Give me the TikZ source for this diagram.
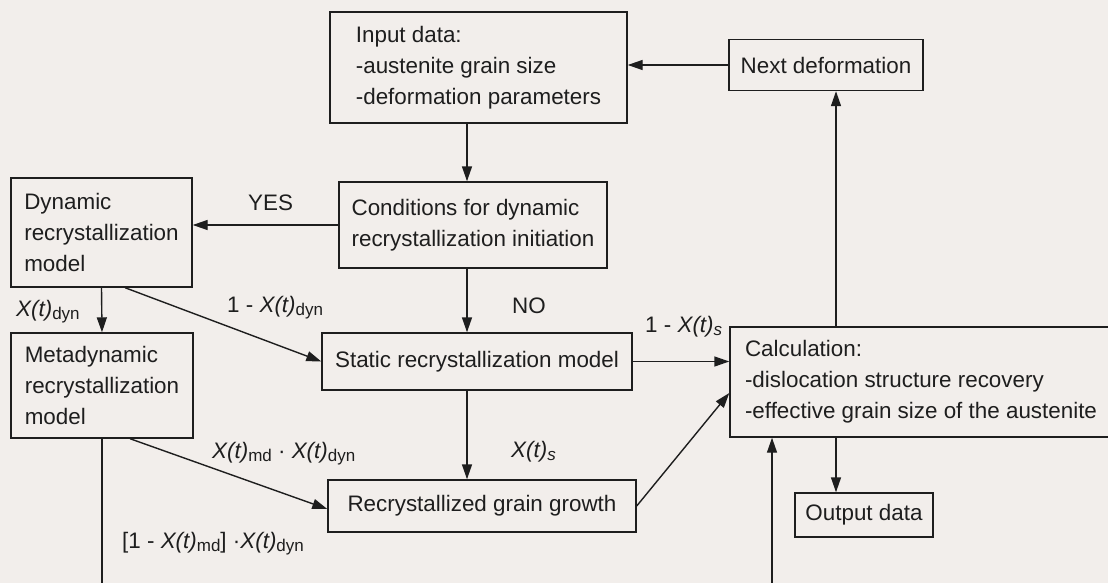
\documentclass[tikz,border=0pt]{standalone}
\usepackage{fontspec}
\setmainfont{Liberation Sans}
\usetikzlibrary{arrows.meta}
\definecolor{paper}{RGB}{242,238,235}
\definecolor{ink}{RGB}{30,30,30}
\tikzstyle{block}=[draw=ink,line width=1.4pt,align=left,inner sep=0pt,text=ink]
\tikzstyle{flow}=[draw=ink,line width=1.4pt,-{Triangle[length=15pt,width=10pt]}]
\tikzstyle{plain}=[draw=ink,line width=1.4pt]
\tikzstyle{lbl}=[anchor=base west,inner sep=0pt,text=ink]
\newcommand{\Xt}{\textit{X(t)}}
\newcommand{\idx}[1]{\raisebox{-0.3ex}{\fontsize{17}{17}\selectfont #1}}
\newcommand{\drawblock}[5]{
\node[block,minimum width=#3,minimum height=#4] (#1) at (#2) {#5};
}

\begin{document}
\begin{tikzpicture}[x=1pt,y=-1pt,font=\fontsize{22.4}{31}\selectfont]
	\clip (0,0) rectangle (1108,583);
	\fill[paper] (0,0) rectangle (1108,583);
	% boxes
	\drawblock{input}{478.5,67.5}{297pt}{111pt}{Input data:\\-austenite grain size\\-deformation parameters}
	\drawblock{next}{826,65}{194pt}{51pt}{Next deformation}
	\drawblock{cond}{473,225}{268pt}{86pt}{Conditions for dynamic\\recrystallization initiation}
	\drawblock{dyn}{101.5,232.5}{181pt}{109pt}{Dynamic\\recrystallization\\model}
	\drawblock{meta}{102,385.5}{182pt}{105pt}{Metadynamic\\recrystallization\\model}
	\drawblock{static}{477,361.5}{310pt}{57pt}{Static recrystallization model}
	\drawblock{grow}{482,506}{308pt}{52pt}{Recrystallized grain growth}
	\drawblock{calc}{921,382}{382pt}{110pt}{Calculation:\\-dislocation structure recovery\\-effective grain size of the austenite}
	\drawblock{out}{864,515}{138pt}{44pt}{Output data}
	% helper positions
	\coordinate (spine) at (467,0);
	\coordinate (stem) at (836,0);
	\coordinate (metaend) at (102,583);
	\coordinate (calcin) at (772,583);
	% connectors
	\draw[flow] (next.west) -- (input.east |- next.west);
	\draw[flow] (input.south -| spine) -- (cond.north -| spine);
	\draw[flow] (cond.south -| spine) -- (static.north -| spine);
	\draw[flow] (static.south -| spine) -- (grow.north -| spine);
	\draw[flow] (cond.west) -- (dyn.east |- cond.west);
	\draw[flow] (dyn.south) -- (meta.north);
	\draw[flow] ([xshift=23.5pt]dyn.south) -- (static.west);
	\draw[flow] ([xshift=28pt]meta.south) -- ([yshift=-3pt]grow.west);
	\draw[flow] (static.east) -- (calc.west |- static.east);
	\draw[flow] (grow.east) -- ([yshift=-11pt]calc.west);
	\draw[flow] (calc.north -| stem) -- (next.south -| stem);
	\draw[flow] (calc.south -| stem) -- (out.north -| stem);
	\draw[plain] (meta.south) -- (metaend);
	\draw[flow] (calcin) -- (calc.south -| calcin);
	% labels
	\node[lbl] (yes) at (248,210) {YES};
	\node[lbl] (no) at (512,313) {NO};
	\node[lbl] (fdyn) at (16,316) {\Xt\idx{dyn}};
	\node[lbl] (fstat) at (227,312) {1 - \Xt\idx{dyn}};
	\node[lbl] (fmd) at (212,458) {\Xt\idx{md} · \Xt\idx{dyn}};
	\node[lbl] (frest) at (122,548) {[1 - \Xt\idx{md}] ·\Xt\idx{dyn}};
	\node[lbl] (fs) at (511,457) {\Xt\idx{\textit{s}}};
	\node[lbl] (fcalc) at (645,332) {1 - \Xt\idx{\textit{s}}};
\end{tikzpicture}
\end{document}
